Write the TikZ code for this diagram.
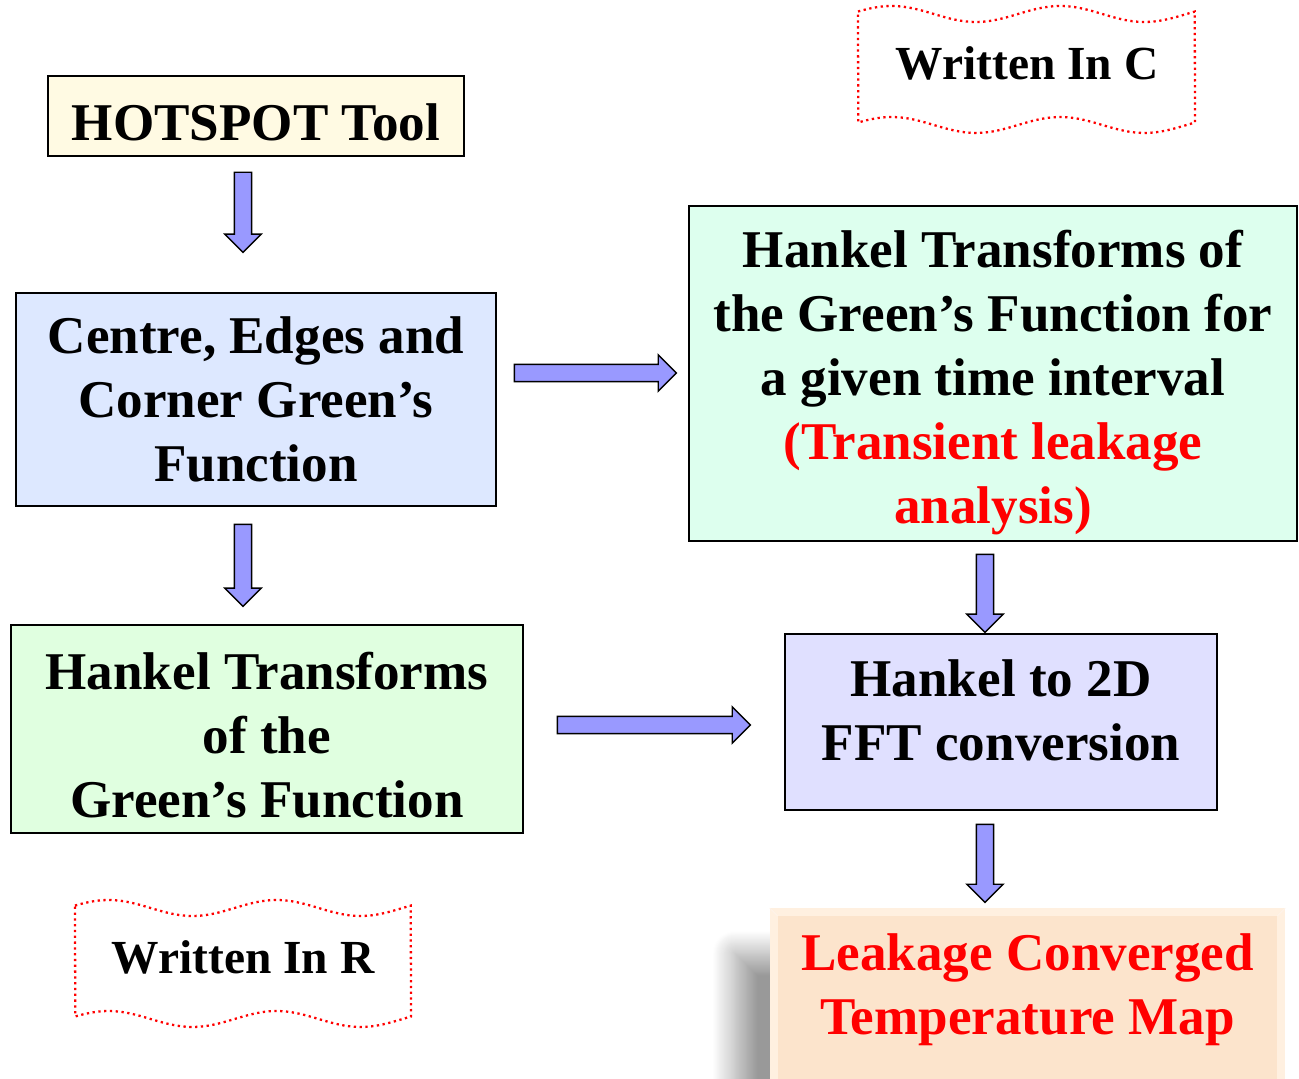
\documentclass[tikz,border=0pt]{standalone}
\usepackage{fontspec}
\setmainfont{Liberation Serif}
\usepackage{tikz}
\usetikzlibrary{shapes.arrows,shadows.blur,calc}

\definecolor{hotcream}{HTML}{FFFAE3}
\definecolor{cgfblue}{HTML}{DDE8FF}
\definecolor{hktmint}{HTML}{DDFFEE}
\definecolor{hkgreen}{HTML}{E0FFE0}
\definecolor{fftlav}{HTML}{E0E0FF}
\definecolor{leakpeach}{HTML}{FCE4CC}
\definecolor{leakedge}{HTML}{FFF0E0}
\definecolor{arrowblue}{HTML}{9999FF}

\newcommand{\topstrut}{\rule{0pt}{0.95em}}

\tikzset{
  flowbox/.style={draw=black,line width=0.8pt,align=center,inner sep=0pt,
    font=\bfseries\fontsize{30.2}{36.4}\selectfont},
  barrow/.style={single arrow,draw=black,fill=arrowblue,line width=0.8pt,
    inner xsep=0pt,inner ysep=4.5pt,single arrow head extend=5.4pt,
    single arrow head indent=0pt},
  wavy/.style={red,dotted,line width=1.3pt},
  wavytxt/.style={font=\bfseries\fontsize{27}{32}\selectfont}
}

\begin{document}
\begin{tikzpicture}
\useasboundingbox (0,0) rectangle (25.98,21.56);
\clip (0,0) rectangle (25.98,21.56);

% boxes
\node[flowbox,fill=hotcream,minimum width=8.32cm,minimum height=1.6cm] (hot) at (5.12,19.24) {\topstrut HOTSPOT Tool};
\node[flowbox,fill=cgfblue,minimum width=9.6cm,minimum height=4.26cm] (cgf) at (5.12,13.57)
  {Centre, Edges and\\Corner Green’s\\Function};
\node[flowbox,fill=hkgreen,minimum width=10.24cm,minimum height=4.16cm] (hkg) at (5.34,6.98)
  {\topstrut Hankel Transforms\\of the\\Green’s Function};
\node[flowbox,fill=hktmint,minimum width=12.16cm,minimum height=6.7cm] (hkt) at (19.86,14.09)
  {\rule{0pt}{1.05em}Hankel Transforms of\\the Green’s Function for\\a given time interval\\
   \textcolor{red}{(Transient leakage}\\\textcolor{red}{analysis)}};
\node[flowbox,fill=fftlav,minimum width=8.64cm,minimum height=3.52cm] (fft) at (20.02,7.12)
  {Hankel to 2D\\FFT conversion\vphantom{y}\\[-0.8cm]};

% result box with shadow
\node[anchor=north,fill=leakedge,minimum width=10.3cm,minimum height=4cm,
  blur shadow={shadow xshift=-0.7cm,shadow yshift=-0.9cm,shadow blur radius=0.45cm,
    shadow opacity=40,shadow blur steps=24}]
  (leak) at (20.55,3.40) {};
\fill[leakpeach] ($(leak.north west)+(0.16,-0.16)$) rectangle ($(leak.south east)+(-0.16,0.16)$);
\draw[white!60!leakpeach] (leak.north west) -- ++(0.16,-0.16) (leak.north east) -- ++(-0.16,-0.16);
\node[align=center,text=red,font=\bfseries\fontsize{30.2}{36.4}\selectfont] (leaktxt) at (20.55,1.76)
  {Leakage Converged\\Temperature Map};

% block arrows
\node[barrow,minimum height=1.6cm,rotate=-90] (a1) at (4.86,17.40) {};
\node[barrow,minimum height=1.64cm,rotate=-90] (a2) at (4.86,10.34) {};
\node[barrow,minimum height=3.24cm] (a3) at (11.82,14.10) {};
\node[barrow,minimum height=3.86cm] (a4) at (12.99,7.06) {};
\node[barrow,minimum height=1.56cm,rotate=-90] (a5) at (19.70,9.78) {};
\node[barrow,minimum height=1.56cm,rotate=-90] (a6) at (19.70,4.38) {};

% wavy notes
\draw[wavy] plot[domain=0:1,samples=60] ({17.16+6.74*\x},{21.28+0.16*sin(720*\x+18)})
  -- plot[domain=1:0,samples=60] ({17.16+6.74*\x},{19.06+0.16*sin(720*\x+18)}) -- cycle;
\node[wavytxt] (wrc) at (20.54,20.30) {Written In C};
\draw[wavy] plot[domain=0:1,samples=60] ({1.50+6.72*\x},{3.40+0.16*sin(720*\x+18)})
  -- plot[domain=1:0,samples=60] ({1.50+6.72*\x},{1.18+0.16*sin(720*\x+18)}) -- cycle;
\node[wavytxt] (wrr) at (4.86,2.42) {Written In R};
\end{tikzpicture}
\end{document}
